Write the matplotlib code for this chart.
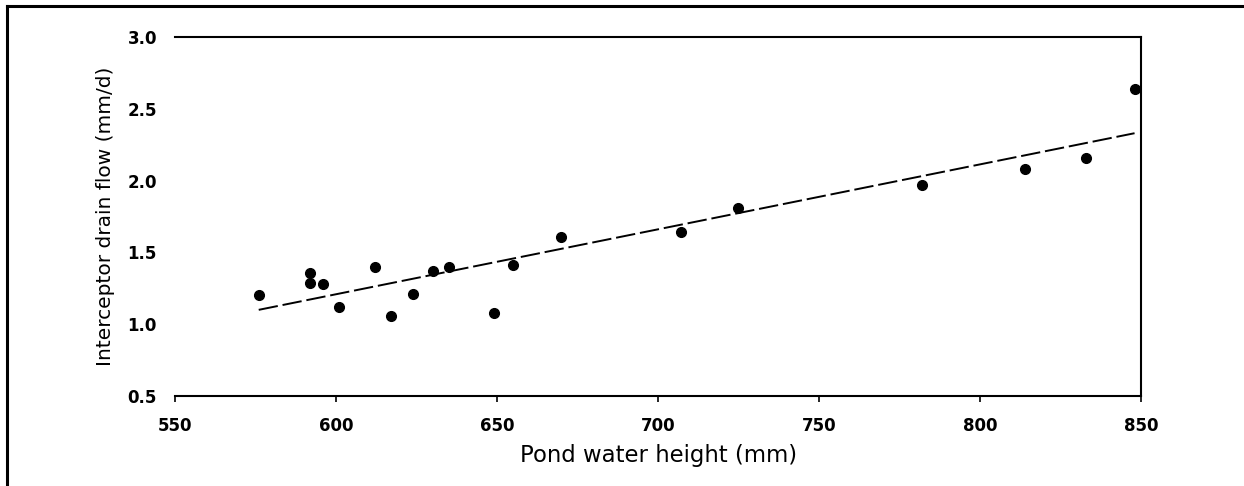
import matplotlib
matplotlib.use("Agg")
import matplotlib.pyplot as plt
from matplotlib.lines import Line2D

# Data
pond_height = [576, 592, 592, 596, 601, 612, 617, 624, 630, 635, 649, 655,
               670, 707, 725, 782, 814, 833, 848]
drain_flow = [1.20, 1.36, 1.29, 1.28, 1.12, 1.40, 1.06, 1.21, 1.37, 1.40,
              1.08, 1.41, 1.61, 1.64, 1.81, 1.97, 2.08, 2.16, 2.64]
trend_x = [576, 848]
trend_y = [1.10, 2.33]

xticks = [550, 600, 650, 700, 750, 800, 850]
yticks = [0.5, 1.0, 1.5, 2.0, 2.5, 3.0]

W, H = 1244, 486
fig = plt.figure(figsize=(W / 100, H / 100), dpi=100)
ax = fig.add_axes([175 / W, 1 - 396 / H, (1141 - 175) / W, (396 - 37) / H])

ax.plot(pond_height, drain_flow, 'o', color='black', markersize=7, zorder=3)
ax.plot(trend_x, trend_y, color='black', linewidth=1.4, dashes=(10, 2.5), zorder=2)

ax.set_xlim(550, 850)
ax.set_ylim(0.5, 3.0)
ax.set_xticks(xticks)
ax.set_yticks(yticks)
ax.set_xticklabels([str(v) for v in xticks], fontsize=12, fontweight='bold')
ax.set_yticklabels([f"{v:.1f}" for v in yticks], fontsize=12, fontweight='bold')
ax.tick_params(axis='x', direction='out', length=4, width=1.2, pad=11)
ax.tick_params(axis='y', length=0, pad=13)

for s in ['top', 'right', 'bottom']:
    ax.spines[s].set_linewidth(1.5)
ax.spines['left'].set_visible(False)

ax.set_xlabel('Pond water height (mm)', fontsize=16.4)
ax.set_ylabel('Interceptor drain flow (mm/d)', fontsize=14.5)
ax.xaxis.set_label_coords(0.501, -0.135)
ax.yaxis.set_label_coords(-0.062, 0.5)

# Figure border (top and left)
bx = 7 / W
by = 1 - 6 / H
fig.add_artist(Line2D([bx, 1], [by, by], color='black', linewidth=2.2, transform=fig.transFigure))
fig.add_artist(Line2D([bx, bx], [0, by], color='black', linewidth=2.2, transform=fig.transFigure))

fig.savefig('out.png', dpi=100)
